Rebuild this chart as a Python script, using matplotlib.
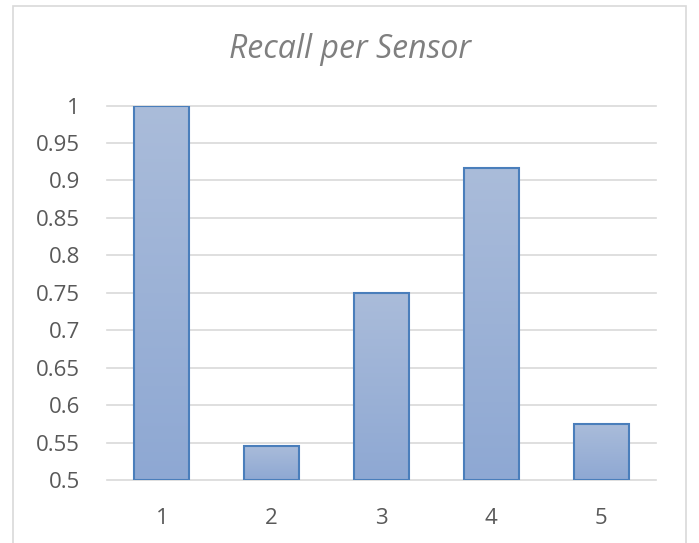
import numpy as np
import matplotlib
matplotlib.use("Agg")
import matplotlib.pyplot as plt
from matplotlib.colors import LinearSegmentedColormap
from matplotlib.patches import Rectangle

sensors = ["1", "2", "3", "4", "5"]
recall = [1.0, 0.546, 0.75, 0.917, 0.575]
y_ticks = [0.5, 0.55, 0.6, 0.65, 0.7, 0.75, 0.8, 0.85, 0.9, 0.95, 1.0]
y_tick_labels = ["0.5", "0.55", "0.6", "0.65", "0.7", "0.75", "0.8", "0.85", "0.9", "0.95", "1"]

plt.rcParams["font.family"] = ["Open Sans", "DejaVu Sans"]

fig = plt.figure(figsize=(6.99, 5.43), dpi=100)
W, H = 699, 543
# chart frame
fig.patches.append(Rectangle((13 / W, -0.05), (686 - 13) / W, 1.05 - 6 / H,
                             transform=fig.transFigure, fill=False,
                             edgecolor="#d9d9d9", linewidth=1.2))

ax = fig.add_axes([107 / W, 1 - 480 / H, (656 - 107) / W, (480 - 105.5) / H])
x = np.arange(len(sensors))
ymin = 0.5

for yt in y_ticks:
    ax.axhline(yt, color="#d9d9d9", linewidth=1.2, zorder=0, clip_on=False)

cmap = LinearSegmentedColormap.from_list("barfill", ["#8ea8d3", "#aabcda"])
grad = np.linspace(0, 1, 256).reshape(-1, 1)
bars = ax.bar(x, np.array(recall) - ymin, bottom=ymin, width=0.5,
              facecolor="none", edgecolor="#4a7ebb", linewidth=1.5, zorder=3)
for b in bars:
    x0, y0 = b.get_x(), b.get_y()
    w, h = b.get_width(), b.get_height()
    im = ax.imshow(grad, cmap=cmap, origin="lower", aspect="auto",
                   extent=(x0, x0 + w, y0, y0 + h), zorder=2)
    im.set_clip_path(b)

ax.set_xlim(-0.5, len(sensors) - 0.5)
ax.set_ylim(ymin, 1.0)
ax.set_xticks(x)
ax.set_xticklabels(sensors)
ax.set_yticks(y_ticks)
ax.set_yticklabels(y_tick_labels)
ax.tick_params(axis="both", length=0, labelsize=16, labelcolor="#595959")
ax.tick_params(axis="x", pad=20)
ax.tick_params(axis="y", pad=19.5)
for s in ax.spines.values():
    s.set_visible(False)

fig.text(350 / W, 1 - 58 / H, "Recall per Sensor",
         ha="center", va="baseline", fontsize=23, style="italic", color="#7f7f7f")

fig.savefig("out.png", dpi=100)
